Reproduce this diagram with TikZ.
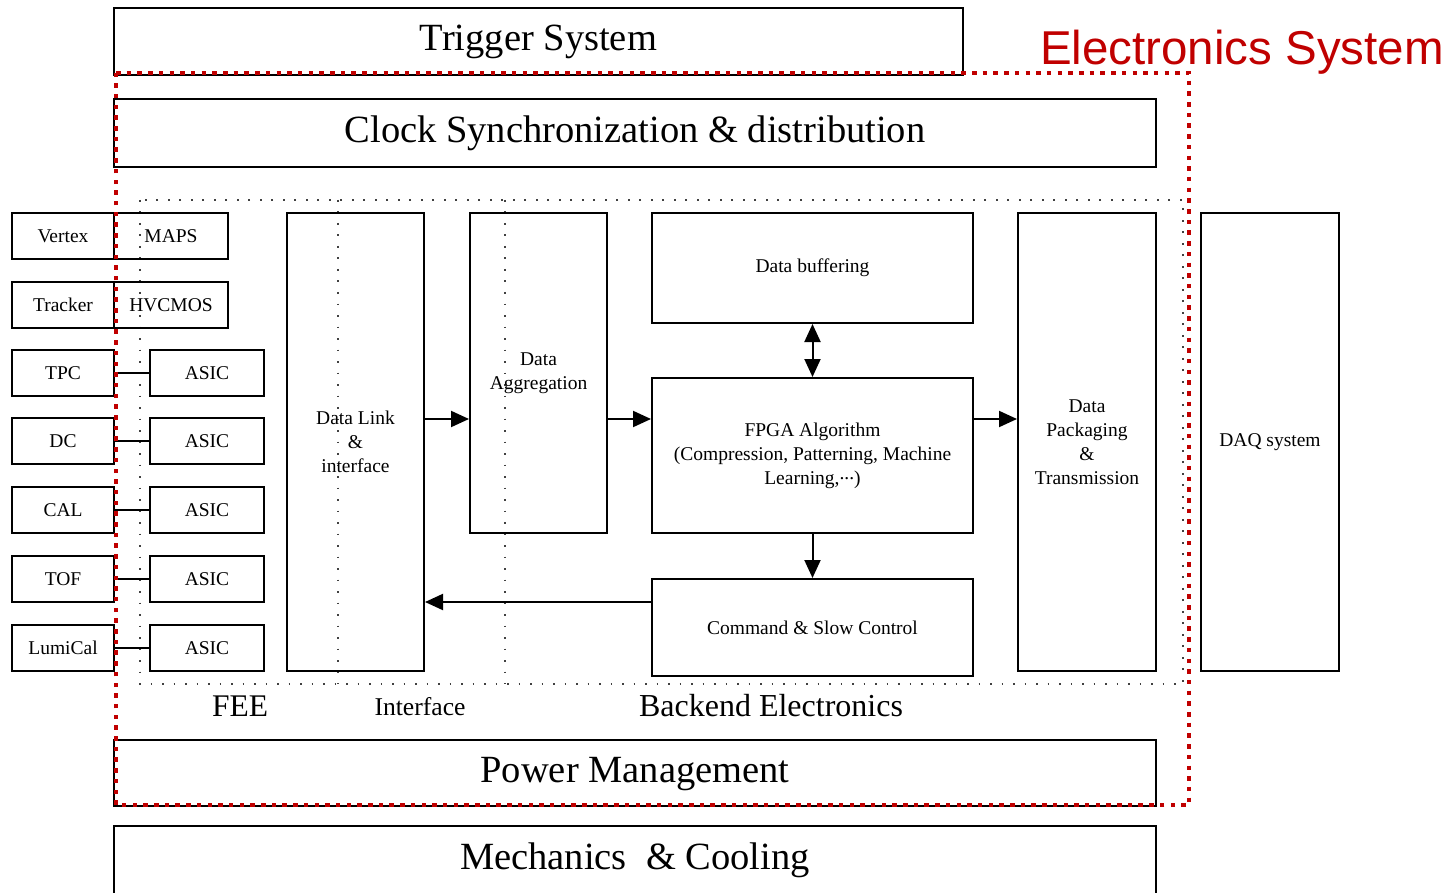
\documentclass[tikz,border=0pt]{standalone}
\usepackage{fontspec}
\setmainfont{Liberation Serif}
\newfontfamily\arialfont{Liberation Sans}
\usepackage{xcolor}
\usepackage{tikz}
\usetikzlibrary{arrows.meta}
\definecolor{esred}{RGB}{192,0,0}

\begin{document}
\begin{tikzpicture}[x=1pt,y=-1pt,
    blk/.style={draw,line width=2pt,inner sep=0pt,align=center,font=\fontsize{19.5}{24}\selectfont},
    bigblk/.style={blk,font=\fontsize{38.5}{46}\selectfont},
    det/.style={blk,minimum width=102pt,minimum height=46pt},
    chip/.style={blk,minimum width=114pt,minimum height=46pt},
    tall/.style={blk,minimum width=137pt,minimum height=458pt},
    wide/.style={blk,minimum width=321pt},
    arr/.style={line width=2pt,-{Triangle[length=18pt,width=16pt]}},
    darr/.style={line width=2pt,{Triangle[length=18pt,width=16pt]}-{Triangle[length=18pt,width=16pt]}},
    grp/.style={black!75,line width=1.8pt,dash pattern=on 1.8pt off 9.7pt},
    esline/.style={esred,line width=4.5pt,dash pattern=on 4.5pt off 6.2pt}]
    \path[use as bounding box] (0,0) rectangle (1453,893);
    \clip (0,0) rectangle (1453,893);

    % frame of the electronics system parts
    \draw[grp] (140,200) rectangle (1183,684);
    \draw[grp] (338,200) -- (338,684);
    \draw[grp] (505,200) -- (505,684);

    \node[bigblk,minimum width=849pt,minimum height=67pt] (trig) at (538.5,41.5) {\strut Trigger System};
    \node[bigblk,minimum width=1042pt,minimum height=68pt] (clk) at (635,133) {\strut Clock Synchronization \& distribution};
    \node[bigblk,minimum width=1042pt,minimum height=66pt] (pwr) at (635,773) {\strut Power Management};
    \node[bigblk,minimum width=1042pt,minimum height=68pt] (mech) at (635,860) {\strut Mechanics~~\& Cooling};

    \node[det] (vtx) at (63,236) {Vertex};
    \node[det] (trk) at (63,305) {Tracker};
    \node[det] (tpc) at (63,373) {TPC};
    \node[det] (dc) at (63,441) {DC};
    \node[det] (cal) at (63,510) {CAL};
    \node[det] (tof) at (63,579) {TOF};
    \node[det] (lumi) at (63,648) {LumiCal};

    \node[chip] (maps) at (171,236) {MAPS};
    \node[chip] (hvc) at (171,305) {HVCMOS};
    \node[chip] (asictpc) at (207,373) {ASIC};
    \node[chip] (asicdc) at (207,441) {ASIC};
    \node[chip] (asiccal) at (207,510) {ASIC};
    \node[chip] (asictof) at (207,579) {ASIC};
    \node[chip] (asiclumi) at (207,648) {ASIC};

    \draw[line width=2pt] (tpc.east) -- (asictpc.west);
    \draw[line width=2pt] (dc.east) -- (asicdc.west);
    \draw[line width=2pt] (cal.east) -- (asiccal.west);
    \draw[line width=2pt] (tof.east) -- (asictof.west);
    \draw[line width=2pt] (lumi.east) -- (asiclumi.west);

    \node[tall] (link) at (355.5,442) {Data Link\\\&\\interface};
    \node[tall,minimum height=320pt] (agg) at (538.5,373) {Data\\Aggregation};
    \node[wide,minimum height=110pt] (buf) at (812.5,268) {Data buffering};
    \node[wide,minimum height=155pt] (fpga) at (812.5,455.5) {FPGA Algorithm\\(Compression, Patterning, Machine\\Learning,\raisebox{0.22em}{...})};
    \node[wide,minimum height=97pt] (cmd) at (812.5,627.5) {Command \& Slow Control};
    \node[tall,minimum width=138pt] (pack) at (1087,442) {Data\\Packaging\\\&\\Transmission};
    \node[tall,minimum width=138pt] (daq) at (1270,442) {DAQ system};

    \coordinate (fwd) at (0,419);
    \coordinate (back) at (0,602);
    \draw[arr] (link.east |- fwd) -- (agg.west |- fwd);
    \draw[arr] (agg.east |- fwd) -- (fpga.west |- fwd);
    \draw[arr] (fpga.east |- fwd) -- (pack.west |- fwd);
    \draw[darr] (buf.south) -- (fpga.north);
    \draw[arr] (fpga.south) -- (cmd.north);
    \draw[arr] (cmd.west |- back) -- (link.east |- back);

    \node[anchor=base,font=\fontsize{31.5}{36}\selectfont] (fee) at (240,716) {FEE};
    \node[anchor=base,font=\fontsize{25.6}{30}\selectfont] (intf) at (420,715) {Interface};
    \node[anchor=base,font=\fontsize{32}{36}\selectfont] (bke) at (771,716) {Backend Electronics};

    \draw[esline] (116,73) -- (1189,73) -- (1189,805) -- (116,805) -- cycle;
    \node[anchor=base,text=esred,font=\arialfont\fontsize{47.5}{50}\selectfont] (es) at (1242,65) {Electronics System};
\end{tikzpicture}
\end{document}
